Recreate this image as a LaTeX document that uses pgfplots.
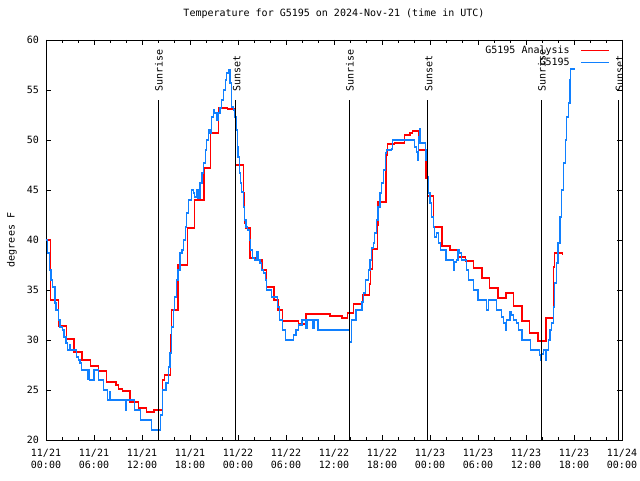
\documentclass[border=0pt]{standalone}
\usepackage{pgfplots}
\pgfplotsset{compat=1.18}
\usepackage{fontspec}
\setmainfont{DejaVu Sans Mono}
\newcommand{\gf}{\fontsize{10pt}{12pt}\selectfont}
\definecolor{gblue}{RGB}{16,128,255}
\definecolor{gred}{RGB}{255,0,0}
\begin{document}
\begin{tikzpicture}
\path[use as bounding box] (0,0) rectangle (640pt,480pt);
\begin{axis}[
  at={(46pt,40pt)}, anchor=south west,
  scale only axis, width=576pt, height=400pt,
  xmin=0, xmax=72, ymin=20, ymax=60,
  axis line style={line width=0.8pt},
  major tick style={line width=0.8pt, black},
  minor tick style={line width=0.8pt, black},
  major tick length=5pt, minor tick length=3pt,
  xtick={0,6,...,72},
  minor xtick={0,2,...,72},
  xticklabels={11/21\\00:00,11/21\\06:00,11/21\\12:00,11/21\\18:00,11/22\\00:00,11/22\\06:00,11/22\\12:00,11/22\\18:00,11/23\\00:00,11/23\\06:00,11/23\\12:00,11/23\\18:00,11/24\\00:00},
  ytick={20,25,...,60},
  yticklabels={20,25,30,35,40,45,50,55,60},
  xticklabel style={font=\gf, align=center, inner sep=0pt, anchor=north, yshift=-9pt},
  yticklabel style={font=\gf, inner sep=0pt, anchor=east, xshift=-7pt},
  ylabel={degrees F},
  every axis y label/.style={at={(axis description cs:-0.059,0.5)}, rotate=90, anchor=center, font=\gf},
  title={Temperature for G5195 on 2024-Nov-21 (time in UTC)},
  title style={at={(0.5,1)}, anchor=base, yshift=17pt, font=\gf},
  legend style={draw=none, fill=none, at={(rel axis cs:1,1)}, anchor=north east, xshift=-12pt, yshift=-4pt, inner sep=0pt, row sep=-1.5pt, column sep=9pt, font=\gf},
  legend cell align=right,
  legend plot pos=right,
  legend image code/.code={\draw[#1] (0pt,0pt) -- (28pt,0pt);},
  clip=true,
]
\addplot[color=gred, line width=1.1pt, const plot] coordinates {
(0,40) (0.58,34) (1.54,31.4) (2.6,30.1) (3.5,28.8) (4.5,28.0) (5.6,27.4) (6.6,26.9) (7.6,25.8) (8.75,25.5) (9.1,25.1) (9.6,24.9) (10.5,23.8) (11.6,23.2) (12.6,22.8) (13.5,23.0) (14.6,26.0) (14.85,26.5) (15.6,30.5) (15.65,33.0) (16.5,37.5) (17.7,41.2) (18.6,44.0) (19.75,47.2) (20.6,50.7) (21.6,53.2) (22.7,53.1) (23.55,52.3) (23.65,50.0) (23.7,47.5) (24.7,44.7) (24.85,41.7) (25.0,41.2) (25.5,38.2) (26.5,38.0) (27.0,37.0) (27.6,35.3) (28.5,34.0) (29.0,33.0) (29.6,31.9) (31.6,31.6) (32.5,32.6) (35.5,32.4) (37.0,32.2) (37.7,32.7) (38.4,33.6) (39.6,34.5) (40.4,35.6) (40.6,37.1) (40.8,39.1) (41.4,41.5) (41.5,43.8) (42.5,48.5) (42.7,49.6) (43.6,49.7) (44.8,50.5) (45.5,50.7) (45.8,50.9) (46.6,49.0) (47.5,46.2) (47.7,44.4) (48.4,41.3) (49.5,39.4) (50.5,39.0) (51.4,38.3) (52.4,37.9) (53.4,37.2) (54.5,36.2) (55.4,35.2) (56.5,34.2) (57.5,34.7) (58.4,33.4) (59.5,31.9) (60.4,30.7) (61.5,29.9) (62.5,32.2) (63.4,34.3) (63.45,37.3) (63.6,38.7) (64.6,38.5)
};
\addlegendentry{G5195 Analysis}
\addplot[color=gblue, line width=1.1pt, const plot] coordinates {
(0,40) (0.2,38.7) (0.41,37) (0.63,36) (0.84,35.3) (1.13,33.7) (1.25,33) (1.54,32) (1.75,31.3) (2.04,31) (2.25,30.3) (2.5,29.7) (2.71,29) (3.0,29.5) (3.06,29) (3.84,28.3) (4.04,28) (4.25,27.7) (4.41,27) (5.21,26.1) (5.31,27) (5.41,26) (6.0,27) (6.54,26.7) (6.59,26) (7.16,25) (7.71,24) (7.91,24.8) (8.04,24) (9.91,23) (10.0,23.8) (10.1,24) (11.04,23) (11.84,22) (13.21,21) (14.3,22.5) (14.6,25) (15.0,25.7) (15.3,27.3) (15.5,28.7) (15.7,31.3) (15.9,33) (16.1,34.3) (16.3,36) (16.5,37) (16.75,38.7) (17.0,39) (17.2,40) (17.4,41.3) (17.6,42.7) (17.8,44) (18.2,45) (18.4,44.7) (18.6,44.3) (18.8,45) (19.0,44.2) (19.25,45.7) (19.5,46.7) (19.7,47.7) (19.9,49) (20.1,50) (20.3,51) (20.5,50.7) (20.7,52.3) (20.9,53) (21.1,52.7) (21.3,52) (21.5,52.7) (21.75,53.2) (21.96,54) (22.2,55) (22.4,56) (22.6,56.7) (22.8,57) (23.0,55.7) (23.2,53.3) (23.4,53) (23.6,52.3) (23.75,51) (23.9,49.3) (24.0,48.3) (24.2,46.7) (24.3,45.7) (24.45,44.8) (24.65,43.3) (24.8,42) (25.0,41.3) (25.2,41) (25.4,40) (25.6,39) (25.8,38.2) (26.1,38) (26.3,38.8) (26.5,38) (26.75,37.7) (26.96,37) (27.2,36.7) (27.4,36) (27.6,35) (28.2,34.3) (28.9,33.3) (29.2,32) (29.6,31) (29.9,30) (30.9,30.5) (31.25,31) (31.6,31.5) (32.0,32) (32.5,31.2) (32.7,32) (33.3,31.2) (33.5,32) (34.0,31) (37.9,29.8) (38.15,32) (38.75,33) (39.5,33.8) (39.7,34.7) (39.9,36) (40.3,37) (40.5,38) (40.7,39.2) (40.9,39.7) (41.1,40.7) (41.3,42) (41.5,43.3) (41.75,44.7) (41.96,45.7) (42.2,47) (42.4,48.7) (42.6,49) (43.2,49.1) (43.34,50) (45.9,50) (46.1,49.3) (46.3,48.8) (46.45,48) (46.6,50.3) (46.67,51.1) (46.75,49.7) (47.4,49) (47.5,48) (47.7,46.3) (47.8,44.7) (48.0,43.7) (48.2,42.3) (48.4,41.3) (48.6,40.3) (48.8,40.7) (49.1,39.7) (49.3,39) (50.0,38) (50.9,37) (51.0,37.8) (51.3,38) (51.5,39) (51.7,38.7) (51.9,38) (52.6,37) (52.8,36) (53.4,35) (54.0,34) (55.1,33) (55.3,34) (56.3,33) (56.96,32.3) (57.2,31.7) (57.5,31) (57.6,32) (58.0,32.8) (58.2,32.5) (58.4,32) (58.8,31.7) (59.1,31) (59.5,30) (60.6,29) (61.7,28.5) (61.8,28) (61.9,28.6) (62.2,29) (62.4,28) (62.6,29) (62.8,30) (63.0,31) (63.2,31.7) (63.4,33.3) (63.6,35.7) (63.8,37.7) (64.0,39.7) (64.25,42.3) (64.45,45) (64.66,47.7) (64.9,50) (65.1,52.3) (65.3,53.7) (65.5,56) (65.6,57.1) (66.1,57.1)
};
\addlegendentry{G5195}
\addplot[black, line width=0.9pt, forget plot] coordinates {(14,20) (14,54)};
\addplot[black, line width=0.9pt, forget plot] coordinates {(37.875,20) (37.875,54)};
\addplot[black, line width=0.9pt, forget plot] coordinates {(61.875,20) (61.875,54)};
\addplot[black, line width=0.9pt, forget plot] coordinates {(23.625,20) (23.625,54)};
\addplot[black, line width=0.9pt, forget plot] coordinates {(47.625,20) (47.625,54)};
\addplot[black, line width=0.9pt, forget plot] coordinates {(71.5,20) (71.5,54)};
\node[font=\gf, rotate=90, anchor=west, inner sep=0pt] at (axis cs:14.12,54.8) {Sunrise};
\node[font=\gf, rotate=90, anchor=west, inner sep=0pt] at (axis cs:37.995,54.8) {Sunrise};
\node[font=\gf, rotate=90, anchor=west, inner sep=0pt] at (axis cs:61.995,54.8) {Sunrise};
\node[font=\gf, rotate=90, anchor=west, inner sep=0pt] at (axis cs:23.85,54.8) {Sunset};
\node[font=\gf, rotate=90, anchor=west, inner sep=0pt] at (axis cs:47.85,54.8) {Sunset};
\node[font=\gf, rotate=90, anchor=west, inner sep=0pt] at (axis cs:71.7,54.8) {Sunset};
\end{axis}
\end{tikzpicture}
\end{document}
